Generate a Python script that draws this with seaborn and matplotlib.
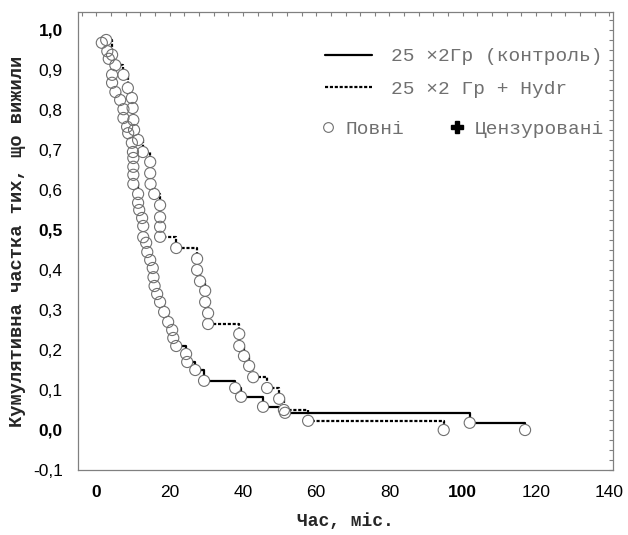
import numpy as np
import pandas as pd
import matplotlib
matplotlib.use("Agg")
import matplotlib.pyplot as plt
import seaborn as sns
from matplotlib.lines import Line2D
from matplotlib.ticker import FixedLocator, MultipleLocator

# Kaplan-Meier steps: event time (months), cumulative survival
control_t = [1.5, 3.0, 3.4, 4.3, 4.3, 5.2, 6.5, 7.4, 7.4, 8.4, 8.7, 9.7, 10.0, 10.1,
             10.1, 10.1, 10.1, 11.4, 11.4, 11.7, 12.5, 12.8, 12.8, 13.6, 13.9, 14.7,
             15.4, 15.6, 15.9, 16.6, 17.4, 18.5, 19.6, 20.7, 21.0, 21.8, 24.5, 24.8,
             27.0, 29.4, 37.9, 39.5, 45.5, 51.5, 101.9, 117.0]
control_s = [0.968, 0.947, 0.928, 0.888, 0.868, 0.845, 0.825, 0.802, 0.780, 0.758,
             0.742, 0.718, 0.695, 0.680, 0.658, 0.638, 0.615, 0.590, 0.568, 0.550,
             0.530, 0.510, 0.482, 0.468, 0.445, 0.425, 0.405, 0.382, 0.360, 0.340,
             0.320, 0.295, 0.270, 0.250, 0.230, 0.210, 0.190, 0.170, 0.150, 0.123,
             0.105, 0.083, 0.058, 0.043, 0.018, 0.0]

hydr_t = [2.7, 4.3, 5.2, 7.4, 8.6, 9.7, 9.9, 10.1, 10.3, 11.4, 12.7, 14.7, 14.7, 14.8,
          15.8, 17.4, 17.4, 17.4, 17.4, 21.8, 27.5, 27.5, 28.3, 29.7, 29.7, 30.5, 30.5,
          39.0, 39.0, 40.3, 41.7, 42.8, 46.6, 49.9, 51.2, 57.8, 94.8]
hydr_s = [0.975, 0.938, 0.912, 0.888, 0.855, 0.830, 0.805, 0.775, 0.750, 0.725, 0.695,
          0.670, 0.642, 0.615, 0.590, 0.562, 0.532, 0.508, 0.483, 0.455, 0.428, 0.400,
          0.372, 0.348, 0.320, 0.292, 0.265, 0.240, 0.210, 0.185, 0.160, 0.132, 0.105,
          0.078, 0.050, 0.023, 0.0]

x_ticks = [0, 20, 40, 60, 80, 100, 120, 140]
x_labels = ['0', '20', '40', '60', '80', '100', '120', '140']
y_ticks = [-0.1, 0.0, 0.1, 0.2, 0.3, 0.4, 0.5, 0.6, 0.7, 0.8, 0.9, 1.0]
y_labels = ['-0,1', '0,0', '0,1', '0,2', '0,3', '0,4', '0,5', '0,6', '0,7', '0,8', '0,9', '1,0']
bold_labels = ['0', '100', '0,0', '0,5', '1,0']

legend_labels = ['25 ×2Гр (контроль)', '25 ×2 Гр + Hydr']
marker_labels = ['Повні', 'Цензуровані']

sns.set_style("white")
plt.rcParams['font.family'] = ['Liberation Sans', 'DejaVu Sans']

df_c = pd.DataFrame({'t': control_t, 's': control_s})
df_h = pd.DataFrame({'t': hydr_t, 's': hydr_s})

fig = plt.figure(figsize=(6.28, 5.35), dpi=100)
ax = fig.add_axes([78 / 628, 1 - 470 / 535, 535 / 628, 458 / 535])

sns.lineplot(data=df_c, x='t', y='s', estimator=None, sort=False, drawstyle='steps-post',
             color='black', lw=1.6, ax=ax)
sns.lineplot(data=df_h, x='t', y='s', estimator=None, sort=False, drawstyle='steps-post',
             color='black', lw=1.6, linestyle=(0, (1.4, 0.8)), ax=ax)

# white fill hides the line under each circle, outline drawn on top
for d in (df_c, df_h):
    sns.scatterplot(data=d, x='t', y='s', s=64, color='white', edgecolor='none',
                    linewidth=0, ax=ax, zorder=3)
for d in (df_c, df_h):
    sns.scatterplot(data=d, x='t', y='s', s=64, facecolors='none', edgecolor='#707070',
                    linewidth=0.8, ax=ax, zorder=4)

ax.set_xlim(-5, 141)
ax.set_ylim(-0.1, 1.045)
ax.xaxis.set_major_locator(FixedLocator(x_ticks))
ax.yaxis.set_major_locator(FixedLocator(y_ticks))
ax.xaxis.set_minor_locator(MultipleLocator(4))
ax.yaxis.set_minor_locator(MultipleLocator(0.025))
ax.set_xticklabels(x_labels)
ax.set_yticklabels(y_labels)
ax.tick_params(which='both', direction='in', top=True, right=True, length=3,
               width=0.8, labelsize=12.5, colors='black')
ax.tick_params(which='both', color='#808080')
ax.tick_params(axis='x', pad=11)
ax.tick_params(axis='y', pad=11)
for lab in ax.get_xticklabels() + ax.get_yticklabels():
    if lab.get_text() in bold_labels:
        lab.set_fontweight('bold')

for sp in ax.spines.values():
    sp.set_color('#808080')
    sp.set_linewidth(0.9)

ax.set_xlabel('Час, міс.', fontfamily='Liberation Mono', fontweight='bold',
              fontsize=13, labelpad=9)
ax.set_ylabel('Кумулятивна частка тих, що вижили', fontfamily='Liberation Mono',
              fontweight='bold', fontsize=13.5, labelpad=5)

# legend: two line styles, then the marker key on one row
line_handles = [Line2D([], [], color='black', lw=1.6),
                Line2D([], [], color='black', lw=1.6, linestyle=(0, (1.4, 0.8)))]
leg1 = ax.legend(line_handles, legend_labels, loc='upper left',
                 bbox_to_anchor=(0.4617, 0.922), borderpad=0, borderaxespad=0,
                 frameon=False, handlelength=2.4, handletextpad=1.0, labelspacing=0.76,
                 prop={'family': 'Liberation Mono', 'size': 14})
for t in leg1.get_texts():
    t.set_color('#707070')
ax.add_artist(leg1)

marker_handles = [Line2D([], [], ls='none', marker='o', markersize=7, markerfacecolor='none',
                         markeredgecolor='#707070', markeredgewidth=0.8),
                  Line2D([], [], ls='none', marker='P', markersize=8, color='black')]
leg2 = ax.legend(marker_handles, marker_labels, loc='upper left', ncol=2,
                 bbox_to_anchor=(0.4495, 0.764), borderpad=0, borderaxespad=0,
                 frameon=False, handlelength=1.0, handletextpad=0.4, columnspacing=2.2,
                 prop={'family': 'Liberation Mono', 'size': 14})
for t in leg2.get_texts():
    t.set_color('#707070')

fig.savefig('out.png', dpi=100)
